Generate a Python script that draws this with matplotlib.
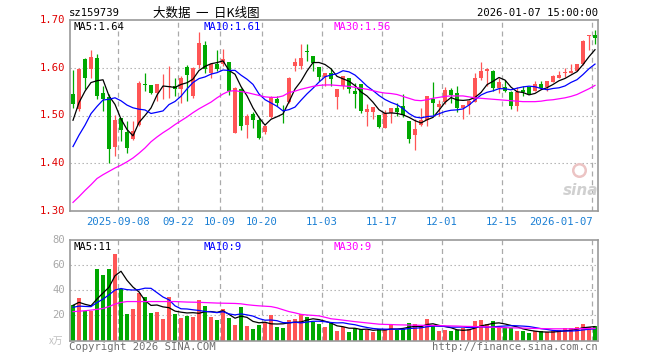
import numpy as np
import matplotlib
matplotlib.use("Agg")
import matplotlib.pyplot as plt

# ---- data (sz159739, daily) ----
opens = [1.544, 1.513, 1.619, 1.597, 1.621, 1.548, 1.538, 1.434, 1.494, 1.466,
         1.450, 1.481, 1.567, 1.563, 1.548, 1.561, 1.559, 1.562, 1.555, 1.602,
         1.541, 1.605, 1.647, 1.588, 1.608, 1.607, 1.612, 1.464, 1.555, 1.481,
         1.503, 1.491, 1.466, 1.497, 1.534, 1.522, 1.529, 1.604, 1.604, 1.636,
         1.624, 1.602, 1.580, 1.590, 1.538, 1.562, 1.578, 1.551, 1.566, 1.507,
         1.508, 1.502, 1.473, 1.506, 1.515, 1.520, 1.489, 1.460, 1.481, 1.490,
         1.534, 1.517, 1.529, 1.553, 1.548, 1.515, 1.523, 1.529, 1.578, 1.593,
         1.594, 1.558, 1.559, 1.550, 1.520, 1.553, 1.559, 1.551, 1.566, 1.559,
         1.571, 1.579, 1.589, 1.588, 1.594, 1.607, 1.667, 1.668]
highs = [1.595, 1.600, 1.621, 1.638, 1.628, 1.562, 1.544, 1.502, 1.495, 1.488,
         1.488, 1.572, 1.590, 1.564, 1.567, 1.586, 1.604, 1.579, 1.582, 1.606,
         1.602, 1.674, 1.655, 1.610, 1.638, 1.640, 1.612, 1.560, 1.558, 1.503,
         1.508, 1.495, 1.480, 1.541, 1.541, 1.523, 1.581, 1.621, 1.650, 1.649,
         1.624, 1.602, 1.590, 1.600, 1.555, 1.583, 1.578, 1.569, 1.566, 1.525,
         1.517, 1.502, 1.511, 1.515, 1.527, 1.544, 1.489, 1.492, 1.516, 1.541,
         1.571, 1.532, 1.560, 1.558, 1.561, 1.522, 1.533, 1.590, 1.613, 1.600,
         1.595, 1.579, 1.575, 1.551, 1.560, 1.562, 1.560, 1.573, 1.573, 1.572,
         1.585, 1.594, 1.599, 1.607, 1.608, 1.658, 1.669, 1.680]
lows = [1.516, 1.510, 1.555, 1.579, 1.534, 1.509, 1.401, 1.415, 1.446, 1.422,
        1.449, 1.479, 1.551, 1.545, 1.531, 1.534, 1.537, 1.541, 1.527, 1.530,
        1.536, 1.600, 1.590, 1.579, 1.594, 1.603, 1.542, 1.463, 1.470, 1.453,
        1.474, 1.450, 1.462, 1.495, 1.520, 1.484, 1.527, 1.593, 1.597, 1.614,
        1.594, 1.573, 1.562, 1.562, 1.513, 1.555, 1.548, 1.516, 1.506, 1.478,
        1.492, 1.473, 1.473, 1.485, 1.499, 1.497, 1.443, 1.427, 1.479, 1.478,
        1.502, 1.499, 1.525, 1.526, 1.508, 1.492, 1.503, 1.529, 1.575, 1.562,
        1.552, 1.548, 1.549, 1.513, 1.509, 1.541, 1.544, 1.551, 1.555, 1.551,
        1.570, 1.578, 1.580, 1.588, 1.594, 1.605, 1.638, 1.650]
closes = [1.524, 1.598, 1.579, 1.622, 1.541, 1.534, 1.429, 1.490, 1.469, 1.432,
          1.467, 1.569, 1.563, 1.548, 1.567, 1.562, 1.562, 1.555, 1.579, 1.585,
          1.600, 1.652, 1.598, 1.607, 1.597, 1.618, 1.552, 1.558, 1.478, 1.500,
          1.491, 1.452, 1.478, 1.539, 1.527, 1.521, 1.579, 1.611, 1.621, 1.634,
          1.609, 1.580, 1.590, 1.576, 1.555, 1.583, 1.555, 1.544, 1.510, 1.513,
          1.517, 1.476, 1.506, 1.515, 1.508, 1.502, 1.450, 1.471, 1.491, 1.541,
          1.527, 1.525, 1.553, 1.542, 1.516, 1.522, 1.531, 1.578, 1.594, 1.598,
          1.557, 1.571, 1.551, 1.520, 1.550, 1.549, 1.546, 1.566, 1.558, 1.572,
          1.583, 1.585, 1.590, 1.594, 1.607, 1.657, 1.668, 1.663]
# closes of the days just before the window (needed for MA5/MA10 at the left edge)
pre_closes = [1.36, 1.37, 1.38, 1.39, 1.40, 1.413, 1.459, 1.532, 1.522]

volumes = [28, 33.9, 23.2, 23.2, 56.8, 52, 56.8, 68.8, 41.3, 20.8,
           24.8, 37.6, 34.4, 22.1, 22.4, 17.3, 34.4, 20.8, 17.9, 19.2,
           18.4, 32, 27.2, 18.4, 16, 24.8, 17.6, 12, 26.4, 11.2,
           8.8, 12, 14.4, 20, 10.4, 9.6, 16, 16.8, 20.8, 18.4,
           14.4, 12.8, 10.4, 13.6, 7.2, 10.9, 6.9, 10.1, 8.8, 8.5,
           6.4, 8.8, 9.1, 13, 8.3, 8.8, 13.6, 12.8, 11.7, 16.8,
           11.7, 7.2, 8, 7.2, 8.5, 9.6, 9.1, 15.2, 16, 12.8,
           15.2, 10.9, 10.9, 10.1, 7.2, 7.2, 5.6, 7.2, 7.2, 6.4,
           7.2, 8, 9.6, 9.6, 10.4, 13.2, 10.4, 11.8]
pre_volumes = [24, 26, 25, 24, 25, 22, 31, 29, 30]

# 30-day averages
ma30_price = [1.318, 1.330, 1.343, 1.355, 1.368, 1.376, 1.383, 1.390, 1.396, 1.403,
              1.411, 1.421, 1.432, 1.445, 1.455, 1.464, 1.472, 1.481, 1.489, 1.497,
              1.506, 1.514, 1.521, 1.528, 1.537, 1.545, 1.551, 1.552, 1.550, 1.548,
              1.545, 1.542, 1.539, 1.538, 1.538, 1.541, 1.548, 1.551, 1.555, 1.558,
              1.561, 1.563, 1.564, 1.564, 1.563, 1.562, 1.561, 1.559, 1.557, 1.555,
              1.552, 1.549, 1.547, 1.546, 1.544, 1.540, 1.536, 1.532, 1.531, 1.533,
              1.536, 1.538, 1.540, 1.541, 1.541, 1.541, 1.539, 1.537, 1.536, 1.535,
              1.534, 1.533, 1.532, 1.531, 1.530, 1.529, 1.529, 1.529, 1.530, 1.532,
              1.533, 1.535, 1.537, 1.540, 1.544, 1.550, 1.556, 1.563]
ma30_vol = [23, 23.3, 23.7, 24.2, 24.8, 25.5, 27, 29, 30.3, 31,
            31, 31, 31, 31, 31, 31, 31, 31, 30.8, 30.6,
            30.5, 30.4, 30.2, 30, 29.8, 29.7, 29.6, 29.5, 29.2, 28.5,
            28, 27.6, 27.3, 27, 26, 24.5, 23, 22, 20.8, 20.3,
            20, 19.6, 18.5, 17.3, 16.8, 16.2, 15.6, 15, 14.5, 14,
            13.5, 13, 12.8, 12.7, 12.5, 12.4, 12.3, 12.2, 12.1, 12,
            11.9, 11.8, 11.7, 11.6, 11.5, 11.3, 11.2, 11.1, 11, 10.8,
            10.6, 10.4, 10.2, 10.1, 10, 9.9, 9.7, 9.6, 9.5, 9.4,
            9.3, 9.3, 9.3, 9.3, 9.4, 9.5, 9.5, 9.6]

# date labels sit on the grid line just left of that day's candle
date_labels = ["2025-09-08", "09-22", "10-09", "10-20", "11-03",
               "11-17", "12-01", "12-15", "2026-01-07"]
date_index = [8, 18, 25, 32, 42, 52, 62, 72, 87]

price_ticks = [1.30, 1.40, 1.50, 1.60, 1.70]
vol_ticks = [20, 40, 60, 80]

RED = "#ff5555"
GREEN = "#00a800"
GRID = "#aaaaaa"
FRAME = "#999999"
W, H = 660, 360
MONO = "DejaVu Sans Mono"


def moving_avg(pre, vals, n):
    full = np.array(pre + vals, dtype=float)
    out = np.convolve(full, np.ones(n) / n, mode="valid")
    return out[-len(vals):]


def px_axes(fig, left, top, right, bottom):
    return fig.add_axes([left / W, 1 - bottom / H, (right - left) / W, (bottom - top) / H])


def ftext(fig, x, y, s, **kw):
    fig.text(x / W, 1 - y / H, s, **kw)


def style_panel(ax, hlines):
    ax.set_xlim(-0.5, len(closes) - 0.5)
    for s in ax.spines.values():
        s.set_color(FRAME)
        s.set_linewidth(1.2)
    for h in hlines:
        ax.axhline(h, color=GRID, lw=0.8, linestyle=(0, (1.2, 2.4)), zorder=0)
    for d in date_index:
        ax.axvline(d - 0.5, color=GRID, lw=0.9, linestyle=(0, (4, 3)), zorder=0)
    ax.set_xticks([])
    ax.set_yticks([])


o = np.array(opens)
c = np.array(closes)
hi = np.array(highs)
lo = np.array(lows)
x = np.arange(len(c))
up = c >= o
colors = np.where(up, RED, GREEN)

fig = plt.figure(figsize=(6.6, 3.6), dpi=100)

# ---- price panel ----
ax = px_axes(fig, 70, 20, 598, 211)
ax.set_ylim(1.30, 1.70)
style_panel(ax, [1.40, 1.50, 1.60])

# faint sina watermark, lower right of the price panel
ax.text(84.6, 1.343, "sina", color="#d0d0d0", fontsize=11, fontweight="bold",
        style="italic", ha="center", va="center", zorder=1)
ax.plot([84.3], [1.385], marker="o", ms=9, mfc="none", mec="#ecc4c4", mew=1.8, zorder=1)

ax.vlines(x, lo, hi, colors=colors, lw=0.9, zorder=2)
body = np.maximum(np.abs(c - o), 0.0015)
ax.bar(x, body, bottom=np.minimum(o, c), width=0.78, color=colors, zorder=3)
ma5 = moving_avg(pre_closes, closes, 5)
ma10 = moving_avg(pre_closes, closes, 10)
ax.plot(x, ma5, color="black", lw=0.9, zorder=4)
ax.plot(x, ma10, color="#0000ff", lw=0.9, zorder=4)
ax.plot(x, ma30_price, color="#ff00ff", lw=0.9, zorder=4)

# ---- volume panel ----
axv = px_axes(fig, 70, 240, 598, 340.5)
axv.set_ylim(0, 80)
style_panel(axv, [20, 40, 60])
axv.bar(x, volumes, width=0.8, color=colors, zorder=2)
axv.plot(x, moving_avg(pre_volumes, volumes, 5), color="black", lw=0.9, zorder=4)
axv.plot(x, moving_avg(pre_volumes, volumes, 10), color="#0000ff", lw=0.9, zorder=4)
axv.plot(x, ma30_vol, color="#ff00ff", lw=0.9, zorder=4)

# ---- axis labels ----
for p in price_ticks:
    yp = 211 - (p - 1.30) / 0.40 * 191
    ftext(fig, 65, yp, f"{p:.2f}", color="#e00000", fontsize=7.6, family=MONO,
          ha="right", va="center")
for v in vol_ticks:
    yv = 340.5 - v / 80 * 100.5
    ftext(fig, 65, yv, f"{v}", color="#a8a8a8", fontsize=7.6, family=MONO,
          ha="right", va="center")
ftext(fig, 56, 341, "x万", color="#c0c0c0", fontsize=7,
      family=["Noto Sans CJK SC", "DejaVu Sans"], ha="center", va="center")

for lab, d in zip(date_labels, date_index):
    xp = 73 + 6 * (d - 0.5)
    ha = "right" if d == date_index[-1] else "center"
    if ha == "right":
        xp += 1
    ftext(fig, xp, 222, lab, color="#1a7fd4", fontsize=7.6, family=MONO,
          ha=ha, va="center")

# ---- header and legends ----
ftext(fig, 69, 13, "sz159739", color="black", fontsize=7.6, family=MONO, va="center")
ftext(fig, 206, 13, "大数据  一  日K线图", color="black", fontsize=9,
      family=["Noto Sans CJK SC", "DejaVu Sans"], ha="center", va="center")
ftext(fig, 598, 13, "2026-01-07 15:00:00", color="black", fontsize=7.6, family=MONO,
      ha="right", va="center")

ftext(fig, 74, 27, "MA5:1.64", color="black", fontsize=7.6, family=MONO, va="center")
ftext(fig, 204, 27, "MA10:1.61", color="#0000ff", fontsize=7.6, family=MONO, va="center")
ftext(fig, 334, 27, "MA30:1.56", color="#ff00ff", fontsize=7.6, family=MONO, va="center")
ftext(fig, 74, 247, "MA5:11", color="black", fontsize=7.6, family=MONO, va="center")
ftext(fig, 204, 247, "MA10:9", color="#0000ff", fontsize=7.6, family=MONO, va="center")
ftext(fig, 334, 247, "MA30:9", color="#ff00ff", fontsize=7.6, family=MONO, va="center")

ftext(fig, 69, 347, "Copyright 2026 SINA.COM", color="#707070", fontsize=7.6,
      family=MONO, va="center")
ftext(fig, 598, 347, "http://finance.sina.com.cn", color="#707070", fontsize=7.6,
      family=MONO, ha="right", va="center")

fig.savefig("out.png", dpi=100)
